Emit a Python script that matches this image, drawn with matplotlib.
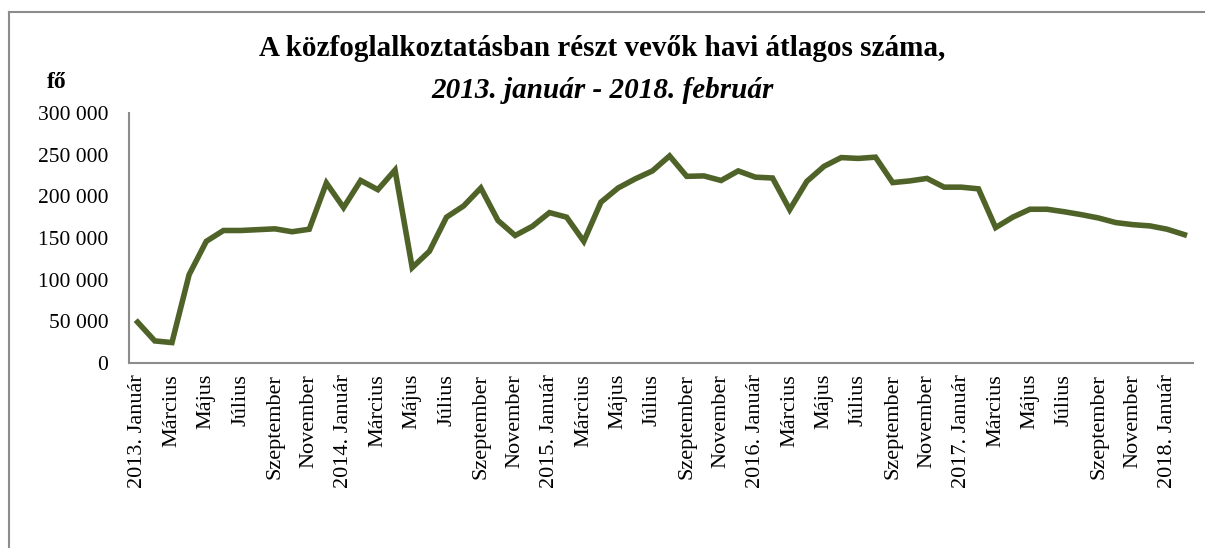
import matplotlib.pyplot as plt
from matplotlib.lines import Line2D

# havi átlagos létszám, 2013. január - 2018. február
honapok = ["Január", "Február", "Március", "Április", "Május", "Június",
           "Július", "Augusztus", "Szeptember", "Október", "November", "December"]
evek = [2013, 2014, 2015, 2016, 2017, 2018]
letszam = [49000, 26500, 24500, 106000, 146000, 159000, 159000, 160000, 161000, 157500,
           160500, 216000, 186500, 219000, 208000, 231500, 114500, 134000, 175000, 188500,
           210000, 171000, 153000, 164000, 180500, 175000, 146000, 193000, 210000, 221000,
           230500, 248500, 224000, 224500, 219000, 230500, 223000, 222000, 184000, 218000,
           236000, 246500, 245500, 247000, 216500, 218500, 221500, 211000, 211000, 209000,
           162500, 175000, 184500, 184500, 181500, 178000, 174000, 168500, 166000, 164500,
           160500, 154000]

cimkek = []
for i in range(len(letszam)):
    ev = evek[i // 12]
    ho = honapok[i % 12]
    cimkek.append(f"{ev}. {ho}" if i % 12 == 0 else ho)

plt.rcParams['font.family'] = ['Liberation Serif', 'DejaVu Serif']

fig = plt.figure(figsize=(12.05, 5.48), dpi=100)
ax = fig.add_axes([0.1071, 0.3376, 0.8829, 0.4562])

x = list(range(len(letszam)))
ax.plot(x, letszam, color='#4F6228', lw=4, solid_joinstyle='miter')

ax.set_xlim(-0.5, len(letszam) - 0.5)
ax.set_ylim(0, 300000)
ax.set_yticks(range(0, 300001, 50000))
ax.set_yticklabels([f"{v:,}".replace(",", " ") for v in range(0, 300001, 50000)], fontsize=15.5)
ax.set_xticks(x[::2])
ax.set_xticklabels(cimkek[::2], rotation=90, fontsize=16)
ax.tick_params(axis='both', length=0)
ax.tick_params(axis='y', pad=15)
ax.tick_params(axis='x', pad=8)

for s in ['top', 'right']:
    ax.spines[s].set_visible(False)
for s in ['left', 'bottom']:
    ax.spines[s].set_color('#8C8C8C')
    ax.spines[s].set_linewidth(1.5)

fig.text(0.5, 0.912, "A közfoglalkoztatásban részt vevők havi átlagos száma,",
         ha='center', va='center', fontsize=21, fontweight='bold')
fig.text(0.5, 0.834, "2013. január - 2018. február",
         ha='center', va='center', fontsize=21, fontweight='bold', style='italic')
fig.text(0.047, 0.850, "fő", ha='center', va='center', fontsize=17, fontweight='bold')

# keret (csak a bal és felső él látszik)
fig.add_artist(Line2D([0.0075, 0.0075], [0.0, 0.978], color='#8C8C8C', lw=1.5))
fig.add_artist(Line2D([0.0075, 1.0], [0.978, 0.978], color='#8C8C8C', lw=1.5))

fig.savefig("out.png", dpi=100)
